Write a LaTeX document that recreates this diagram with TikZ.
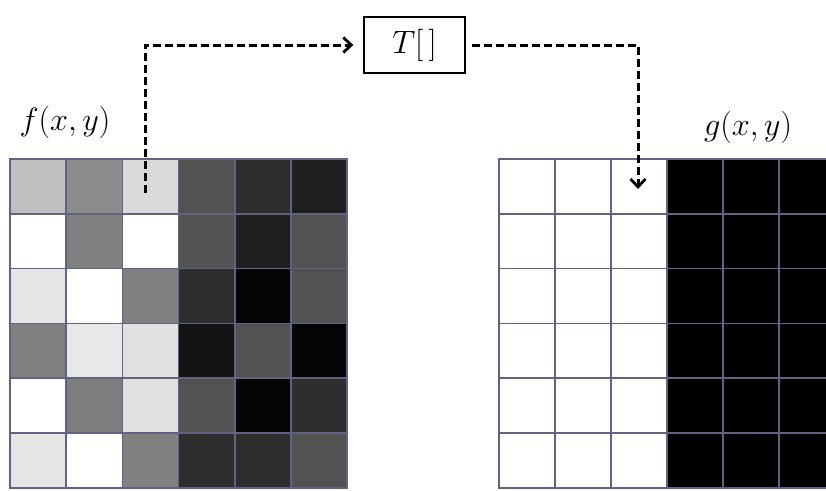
\documentclass[tikz,border=0pt]{standalone}
\usepackage{amssymb,amsmath}
\usepackage{graphicx}
\usetikzlibrary{arrows.meta}
\definecolor{gridline}{RGB}{96,100,130}
\newcommand{\bigmath}[1]{\scalebox{1.3}{\fontsize{24.88}{30}\selectfont$#1$}}

\begin{document}
\begin{tikzpicture}[x=1pt,y=-1pt,
    cellline/.style={draw=gridline,line width=1.5pt},
    flow/.style={line width=3pt,dash pattern=on 8pt off 4pt,
      -{Straight Barb[length=8pt,width=15pt,line width=2.8pt]}},
    tbox/.style={draw,line width=1.3pt,minimum width=101pt,minimum height=56pt,inner sep=0pt},
    lbl/.style={inner sep=0pt}]

\useasboundingbox (0,0) rectangle (826,490);
\clip (0,0) rectangle (826,490);

% input image f(x,y)
\foreach \row [count=\r from 0] in
  {{0.75,0.55,0.85,0.32,0.18,0.12},
   {1.00,0.50,1.00,0.33,0.12,0.32},
   {0.90,1.00,0.50,0.18,0.02,0.32},
   {0.50,0.91,0.88,0.08,0.32,0.02},
   {1.00,0.49,0.88,0.32,0.02,0.18},
   {0.90,1.00,0.50,0.18,0.18,0.32}}
  \foreach \v [count=\c from 0] in \row {
    \definecolor{cellc}{gray}{\v}
    \filldraw[cellline,fill=cellc] (10+56.2*\c,159+54.8*\r) rectangle ++(56.2,54.8);
  }

% output image g(x,y)
\foreach \r in {0,...,5}
  \foreach \c in {0,...,5} {
    \ifnum\c<3
      \filldraw[cellline,fill=white] (499+56*\c,159+54.8*\r) rectangle ++(56,54.8);
    \else
      \filldraw[cellline,fill=black] (499+56*\c,159+54.8*\r) rectangle ++(56,54.8);
    \fi
  }

\node[lbl] (f) at (65,122) {\bigmath{f(x,y)}};
\node[lbl] (g) at (748,127) {\bigmath{g(x,y)}};
\node[tbox] (T) at (414.5,45) {\bigmath{T[\,]}};

\coordinate (src) at (145,193);
\coordinate (dst) at (638,189);

\draw[flow,shorten >=10pt] (src) |- (T.west);
\draw[flow,shorten <=6pt] (T.east) -| (dst);
\end{tikzpicture}
\end{document}
